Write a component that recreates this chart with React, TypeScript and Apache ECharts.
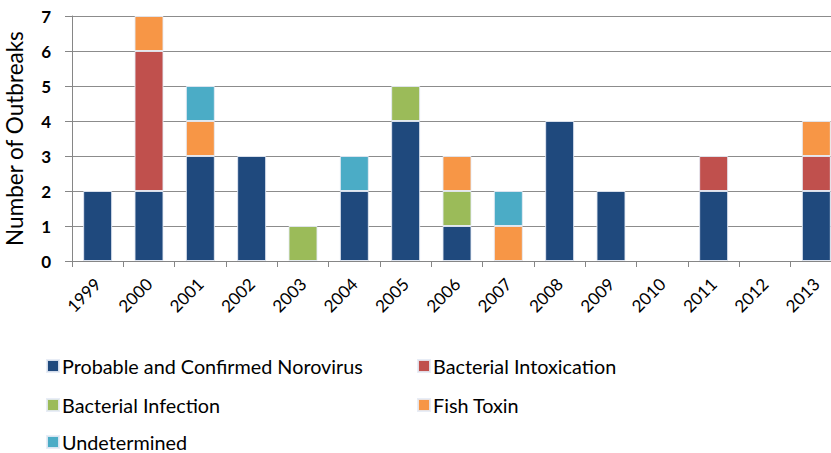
import React, { useEffect, useRef } from "react";
import * as echarts from "echarts";

const years = ["1999","2000","2001","2002","2003","2004","2005","2006","2007","2008","2009","2010","2011","2012","2013"];
const norovirus = [2, 2, 3, 3, 0, 2, 4, 1, 0, 4, 2, 0, 2, 0, 2];
const intoxication = [0, 4, 0, 0, 0, 0, 0, 0, 0, 0, 0, 0, 1, 0, 1];
const infection = [0, 0, 0, 0, 1, 0, 1, 1, 0, 0, 0, 0, 0, 0, 0];
const fishToxin = [0, 1, 1, 0, 0, 0, 0, 1, 1, 0, 0, 0, 0, 0, 1];
const undetermined = [0, 0, 1, 0, 0, 1, 0, 0, 1, 0, 0, 0, 0, 0, 0];

const seriesNames = [
  "Probable and Confirmed Norovirus",
  "Bacterial Intoxication",
  "Bacterial Infection",
  "Fish Toxin",
  "Undetermined",
];
const seriesData = [norovirus, intoxication, infection, fishToxin, undetermined];
const colors = ["#1F497D", "#C0504D", "#9BBB59", "#F79646", "#4BACC6"];

const FONT = "Lato, 'Noto Sans', sans-serif";

export default function App() {
  const ref = useRef<HTMLDivElement>(null);
  useEffect(() => {
    if (!ref.current) return;
    const chart = echarts.init(ref.current, undefined, { renderer: "svg" });
    const legendPos = [
      { left: 46, top: 356 },
      { left: 417, top: 356 },
      { left: 46, top: 395 },
      { left: 417, top: 395 },
      { left: 46, top: 432 },
    ];
    chart.setOption({
      animation: false,
      color: colors,
      textStyle: { fontFamily: FONT },
      grid: {
        left: 72,
        top: 16,
        width: 770,
        height: 245,
        containLabel: false,
        outerBoundsMode: "none",
      },
      legend: seriesNames.map((n, i) => ({
        data: [n],
        left: legendPos[i].left,
        top: legendPos[i].top,
        icon: "rect",
        itemWidth: 12,
        itemHeight: 12,
        itemGap: 0,
        padding: 0,
        textStyle: { fontFamily: FONT, fontSize: 19.8, color: "#000", padding: [0, 0, 0, -2] },
        selectedMode: false,
      })),
      xAxis: {
        type: "category",
        data: years,
        axisLine: { lineStyle: { color: "#868686", width: 1 } },
        axisTick: { show: true, length: 6, lineStyle: { color: "#868686" } },
        axisLabel: { rotate: 45, fontSize: 17, color: "#000", fontFamily: FONT, margin: 20, interval: 0 },
      },
      yAxis: {
        type: "value",
        min: 0,
        max: 7,
        interval: 1,
        name: "Number of Outbreaks",
        nameLocation: "middle",
        nameGap: 46,
        nameTextStyle: { fontSize: 22.5, color: "#000", fontFamily: FONT },
        axisLine: { show: true, lineStyle: { color: "#868686", width: 1 } },
        axisTick: { show: true, length: 7, lineStyle: { color: "#868686" } },
        axisLabel: { fontSize: 17, fontWeight: "bold", color: "#000", fontFamily: FONT, margin: 21 },
        splitLine: { show: true, lineStyle: { color: "#8c8c8c", width: 1 } },
      },
      series: seriesNames.map((n, i) => ({
        name: n,
        type: "bar",
        stack: "total",
        barWidth: "56.5%",
        data: seriesData[i].map((v) => (v === 0 ? null : v)),
        itemStyle: { color: colors[i], borderColor: "rgba(230,235,245,0.9)", borderWidth: 1 },
      })),
    });
    return () => chart.dispose();
  }, []);
  return (
    <div
      ref={ref}
      style={{ position: "fixed", left: 0, top: 0, width: 831, height: 453, background: "#fff", overflow: "hidden" }}
    />
  );
}
